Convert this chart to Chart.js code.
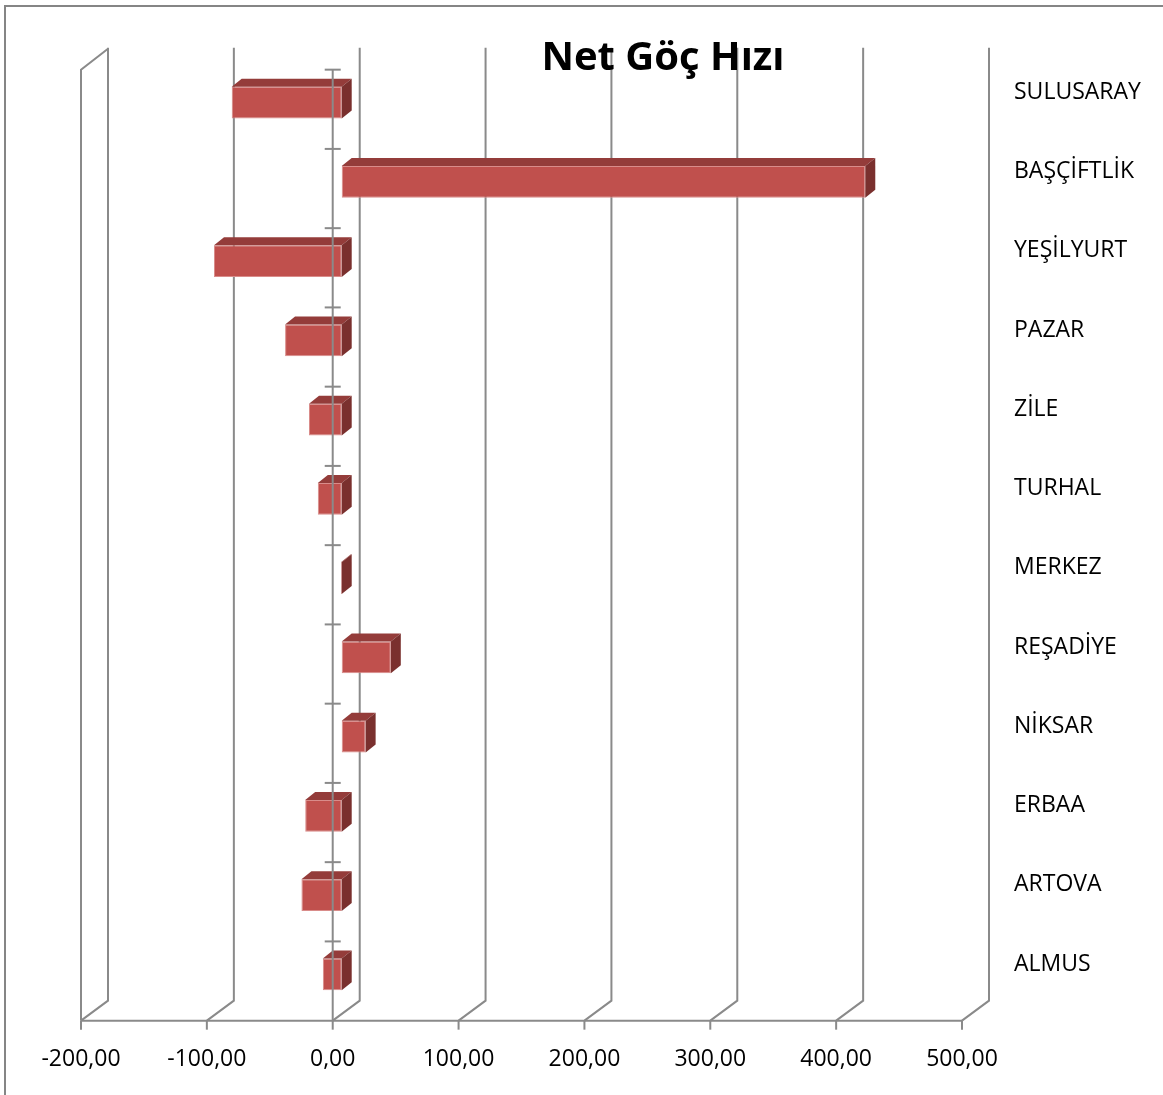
<!DOCTYPE html>
<html lang="tr">
<head>
<meta charset="utf-8">
<title>Net Göç Hızı</title>
<script src="https://cdn.jsdelivr.net/npm/chart.js@4.4.1/dist/chart.umd.min.js"></script>
<style>
  html, body { margin: 0; padding: 0; background: #fff; }
  #wrap { width: 1163px; height: 1095px; }
</style>
</head>
<body>
<div id="wrap"><canvas id="chart" width="1163" height="1095"></canvas></div>
<script>
// Chart data (top to bottom)
const districts = ["SULUSARAY", "BAŞÇİFTLİK", "YEŞİLYURT", "PAZAR", "ZİLE", "TURHAL",
  "MERKEZ", "REŞADİYE", "NİKSAR", "ERBAA", "ARTOVA", "ALMUS"];
const netMigration = [-87.4, 416, -101.5, -45, -26, -19, -0.6, 39, 19, -29, -32, -15];
const xTicks = [-200, -100, 0, 100, 200, 300, 400, 500];
const chartTitle = "Net Göç Hızı";

// 3D look: the chart area is the plane of the bars' front faces
const DEPTH = { dx: 27, dy: -20 };     // front wall -> back wall
const BAR_POS = 1 / 3;                 // where the bar front sits between the walls
const BAR_DEPTH = { dx: 10, dy: -8 };  // thickness of a bar
const GRID = "#8a8a8a";
const FONT = "'Open Sans', 'Noto Sans', sans-serif";

function fmt(v) {
  return v.toFixed(2).replace(".", ",");
}

const fake3d = {
  id: "fake3d",
  beforeDatasetsDraw(chart) {
    const ctx = chart.ctx;
    const xs = chart.scales.x;
    const ys = chart.scales.y;
    const area = chart.chartArea;
    const fx = -BAR_POS * DEPTH.dx, fy = -BAR_POS * DEPTH.dy;
    const bx = (1 - BAR_POS) * DEPTH.dx, by = (1 - BAR_POS) * DEPTH.dy;
    const frontBottom = area.bottom + fy, frontTop = area.top + fy;
    const backBottom = area.bottom + by, backTop = area.top + by;

    ctx.save();
    // outer frame
    ctx.strokeStyle = "#858585";
    ctx.lineWidth = 2;
    ctx.strokeRect(5, 6, 1300, 1300);

    ctx.strokeStyle = GRID;
    ctx.lineWidth = 2;
    // back wall gridlines + floor diagonals
    xTicks.forEach(v => {
      const x = xs.getPixelForValue(v);
      ctx.beginPath();
      ctx.moveTo(x + fx, frontBottom);
      ctx.lineTo(x + bx, backBottom);
      ctx.lineTo(x + bx, backTop - 2);
      ctx.stroke();
      // tick mark under the front edge
      ctx.beginPath();
      ctx.moveTo(x + fx, frontBottom);
      ctx.lineTo(x + fx, frontBottom + 9);
      ctx.stroke();
    });
    // front floor edge
    const xl = xs.getPixelForValue(xTicks[0]);
    const xr = xs.getPixelForValue(xTicks[xTicks.length - 1]);
    ctx.beginPath();
    ctx.moveTo(xl + fx, frontBottom);
    ctx.lineTo(xr + fx, frontBottom);
    ctx.stroke();
    // left wall front edge and top
    ctx.beginPath();
    ctx.moveTo(xl + fx, frontBottom);
    ctx.lineTo(xl + fx, frontTop);
    ctx.lineTo(xl + bx, backTop - 1);
    ctx.stroke();

    // value labels
    ctx.fillStyle = "#000";
    ctx.font = "23px " + FONT;
    ctx.textAlign = "center";
    ctx.textBaseline = "middle";
    xTicks.forEach(v => {
      ctx.fillText(fmt(v), xs.getPixelForValue(v) + fx, frontBottom + 39);
    });

    // category labels on the right, aligned with the back wall
    ctx.textAlign = "left";
    districts.forEach((name, i) => {
      ctx.fillText(name, 1014, ys.getPixelForValue(i) + by + 3);
    });
    ctx.restore();
  },
  afterDatasetsDraw(chart) {
    const ctx = chart.ctx;
    const xs = chart.scales.x;
    const area = chart.chartArea;
    const fx = -BAR_POS * DEPTH.dx, fy = -BAR_POS * DEPTH.dy;
    const meta = chart.getDatasetMeta(0);

    ctx.save();
    meta.data.forEach(bar => {
      const p = bar.getProps(["x", "y", "base", "height"], true);
      const left = Math.min(p.x, p.base);
      const right = Math.max(p.x, p.base);
      const top = p.y - p.height / 2;
      const bottom = p.y + p.height / 2;
      // top face
      if (right - left > 0.5) {
        ctx.fillStyle = "#943c3a";
        ctx.beginPath();
        ctx.moveTo(left, top);
        ctx.lineTo(left + BAR_DEPTH.dx, top + BAR_DEPTH.dy);
        ctx.lineTo(right + BAR_DEPTH.dx, top + BAR_DEPTH.dy);
        ctx.lineTo(right, top);
        ctx.closePath();
        ctx.fill();
      }
      // right side face
      ctx.fillStyle = "#7a302e";
      ctx.beginPath();
      ctx.moveTo(right, top);
      ctx.lineTo(right + BAR_DEPTH.dx, top + BAR_DEPTH.dy);
      ctx.lineTo(right + BAR_DEPTH.dx, bottom + BAR_DEPTH.dy);
      ctx.lineTo(right, bottom);
      ctx.closePath();
      ctx.fill();
    });

    // category axis at zero, on the front plane
    const x0 = xs.getPixelForValue(0) + fx;
    ctx.strokeStyle = GRID;
    ctx.lineWidth = 2;
    ctx.beginPath();
    ctx.moveTo(x0, area.top + fy);
    ctx.lineTo(x0, area.bottom + fy);
    ctx.stroke();
    const step = (area.bottom - area.top) / districts.length;
    for (let i = 0; i < districts.length; i++) {
      const y = area.top + fy + i * step;
      ctx.beginPath();
      ctx.moveTo(x0 - 8, y);
      ctx.lineTo(x0 + 8, y);
      ctx.stroke();
    }

    // title
    ctx.fillStyle = "#000";
    ctx.font = "bold 40px " + FONT;
    ctx.textAlign = "center";
    ctx.textBaseline = "middle";
    ctx.fillText(chartTitle, 663, 59);
    ctx.restore();
  }
};

new Chart(document.getElementById("chart"), {
  type: "bar",
  data: {
    labels: districts,
    datasets: [{
      label: chartTitle,
      data: netMigration,
      backgroundColor: "#c0504d",
      borderColor: "#d98c8a",
      borderWidth: 1,
      borderSkipped: false,
      barPercentage: 0.4,
      categoryPercentage: 1
    }]
  },
  options: {
    indexAxis: "y",
    responsive: false,
    animation: false,
    layout: { padding: { left: 90, right: 192, top: 63, bottom: 81 } },
    plugins: { legend: { display: false }, tooltip: { enabled: false }, title: { display: false } },
    scales: {
      x: { display: false, min: -200, max: 500 },
      y: { display: false }
    }
  },
  plugins: [fake3d]
});
</script>
</body>
</html>
